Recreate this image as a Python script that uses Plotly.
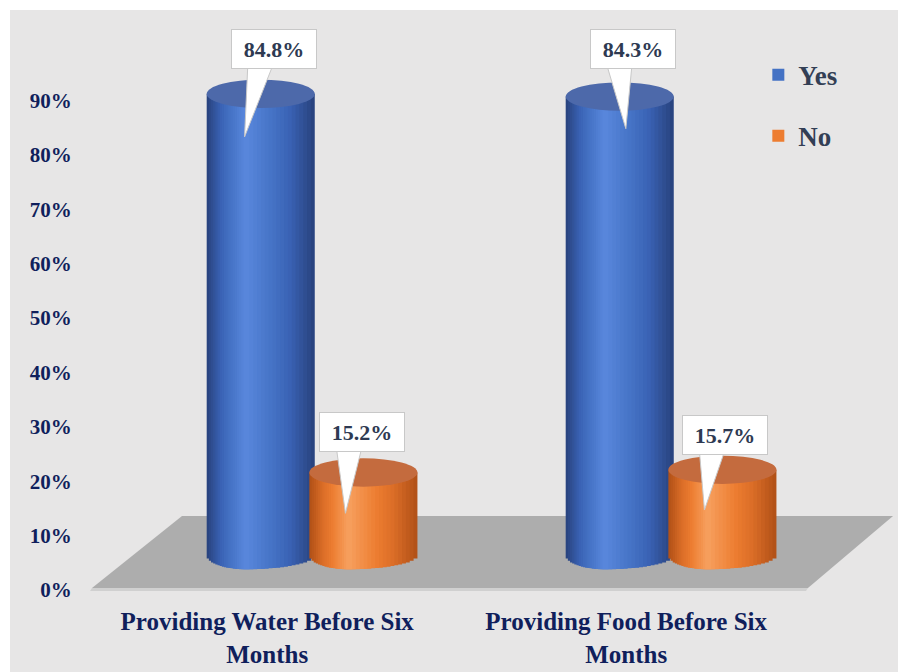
import plotly.graph_objects as go
import math

# ---------------- data ----------------
categories = ["Providing Water Before Six<br>Months", "Providing Food Before Six<br>Months"]
series_names = ["Yes", "No"]
yes_values = [84.8, 84.3]
no_values = [15.2, 15.7]
y_tick_values = [0, 10, 20, 30, 40, 50, 60, 70, 80, 90]
y_tick_labels = ["0%", "10%", "20%", "30%", "40%", "50%", "60%", "70%", "80%", "90%"]

# ---------------- style ----------------
W, H = 899, 672
ML, MR, MT, MB = 92, 9, 10, 82
PX_PER_X = 359.0
PX_PER_Y = 5.44
X_RANGE = [-0.613, -0.613 + (W - ML - MR) / PX_PER_X]
Y_TOP = (H - MB - MT) / PX_PER_Y
Y_SHIFT = 6.4            # bars sit on the floor, slightly above the axis zero
Y2_RANGE = [-Y_SHIFT, Y_TOP - Y_SHIFT]
BAR_W = 0.301
OFFSETS = [-0.143, 0.143]
ELL = 2.6                 # half height of the cylinder ellipses (y units)
N_LAYERS = 18
SERIF = "Liberation Serif"
NAVY = "#101f5c"
LABEL_COL = "#2e3a52"

# colour stops edge -> highlight
blue_stops = [(0.0, (0x29, 0x44, 0x80)), (0.35, (0x3a, 0x62, 0xb4)), (0.6, (0x44, 0x72, 0xc4)), (1.0, (0x58, 0x86, 0xdb))]
orange_stops = [(0.0, (0xb3, 0x52, 0x18)), (0.35, (0xdc, 0x6e, 0x28)), (0.6, (0xed, 0x7d, 0x31)), (1.0, (0xf6, 0x9e, 0x5c))]
top_colors = ["#4d69aa", "#c46b3e"]


def interp(stops, t):
    for (t0, c0), (t1, c1) in zip(stops[:-1], stops[1:]):
        if t <= t1:
            f = (t - t0) / (t1 - t0) if t1 > t0 else 0
            return "#%02x%02x%02x" % tuple(int(round(a + (b - a) * f)) for a, b in zip(c0, c1))
    return "#%02x%02x%02x" % stops[-1][1]


palettes = [[interp(blue_stops, k / (N_LAYERS - 1)) for k in range(N_LAYERS)],
            [interp(orange_stops, k / (N_LAYERS - 1)) for k in range(N_LAYERS)]]
legend_colors = ["#4472c4", "#ed7d31"]

# label box / pointer offsets (x units, y units)
label_dx = [[0.036, 0.036], [-0.003, 0.008]]
label_dy = [[8.3, 8.8], [7.4, 6.4]]
tip_dx = [[-0.045, 0.017], [-0.05, -0.05]]
tip_dy = [[-7.9, -5.9], [-7.5, -7.4]]

values = [yes_values, no_values]

fig = go.Figure()
shapes = []


def px_to_paper(px, py):
    return (px - ML) / (W - ML - MR), (H - MB - py) / (H - MB - MT)


bx0, by0 = px_to_paper(10, 10)
bx1, by1 = px_to_paper(898, 672)
shapes.append(dict(type="rect", xref="paper", yref="paper", x0=bx0, x1=bx1, y0=by1, y1=by0,
                   fillcolor="#e7e6e6", line=dict(width=0), layer="below"))
floor_pts = [px_to_paper(92, 588), px_to_paper(182, 516), px_to_paper(893, 516), px_to_paper(808, 588)]
path = "M " + " L ".join(f"{a:.4f},{b:.4f}" for a, b in floor_pts) + " Z"
shapes.append(dict(type="path", xref="paper", yref="paper", path=path,
                   fillcolor="#adadad", line=dict(width=0), layer="below"))
e0 = px_to_paper(92, 588); e1 = px_to_paper(808, 588); e2 = px_to_paper(806, 591); e3 = px_to_paper(90, 591)
shapes.append(dict(type="path", xref="paper", yref="paper",
                   path=f"M {e0[0]:.4f},{e0[1]:.4f} L {e1[0]:.4f},{e1[1]:.4f} L {e2[0]:.4f},{e2[1]:.4f} L {e3[0]:.4f},{e3[1]:.4f} Z",
                   fillcolor="#d0d0d0", line=dict(width=0), layer="below"))

# invisible trace so the tick axis (x, y) subplot exists
fig.add_trace(go.Scatter(x=[], y=[], showlegend=False, hoverinfo="skip"))

# cylinders as layered bars
for s, name in enumerate(series_names):
    xs_c = [i + OFFSETS[s] for i in range(len(categories))]
    for k in range(N_LAYERS):
        frac = 1 - k / N_LAYERS
        frac_next = 1 - (k + 1) / N_LAYERS
        w = BAR_W * frac
        shift = -(BAR_W - w) * 0.14
        umid = (frac + frac_next) / 2
        depth = ELL * math.sqrt(max(0.0, 1 - umid ** 2))
        fig.add_trace(go.Bar(
            x=[xc + shift for xc in xs_c],
            y=[v + depth for v in values[s]],
            base=[-depth] * len(values[s]),
            width=w,
            yaxis="y2",
            name=name,
            legendgroup=name,
            showlegend=False,
            marker=dict(color=palettes[s][k], line=dict(width=0)),
            hoverinfo="skip",
        ))
    # legend entry carrying the series colour (zero-height bars)
    fig.add_trace(go.Bar(
        x=xs_c, y=[0] * len(xs_c), width=BAR_W, yaxis="y2", name=name, legendgroup=name,
        showlegend=True, marker=dict(color=legend_colors[s], line=dict(width=0)), hoverinfo="skip",
    ))
    # top ellipses
    for i, v in enumerate(values[s]):
        xc = xs_c[i]
        shapes.append(dict(type="circle", xref="x", yref="y2",
                           x0=xc - BAR_W / 2, x1=xc + BAR_W / 2, y0=v - ELL, y1=v + ELL,
                           fillcolor=top_colors[s], line=dict(width=0), layer="above"))

# callout pointers + labels
annotations = []
for s in range(len(series_names)):
    for i, v in enumerate(values[s]):
        xc = i + OFFSETS[s]
        lx = xc + label_dx[s][i]
        ly = v + label_dy[s][i]
        tx = xc + tip_dx[s][i]
        ty = v + tip_dy[s][i]
        base_y = ly - 3.0
        p = f"M {lx - 0.072:.4f},{base_y:.3f} L {lx - 0.002:.4f},{base_y:.3f} L {tx:.4f},{ty:.3f} Z"
        shapes.append(dict(type="path", xref="x", yref="y2", path=p,
                           fillcolor="white", line=dict(color="#c8c8c8", width=1), layer="above"))
        annotations.append(dict(x=lx, y=ly, xref="x", yref="y2", text=f"{v:.1f}%",
                                showarrow=False, bgcolor="white", bordercolor="#c8c8c8",
                                borderwidth=1, width=82, height=36,
                                font=dict(family=SERIF, size=22, color=LABEL_COL, weight="bold")))

fig.update_layout(
    width=W, height=H,
    margin=dict(l=ML, r=MR, t=MT, b=MB),
    paper_bgcolor="white",
    plot_bgcolor="rgba(0,0,0,0)",
    barmode="overlay",
    shapes=shapes,
    annotations=annotations,
    showlegend=True,
    legend=dict(x=0.835, y=0.93, xanchor="left", yanchor="top",
                bgcolor="rgba(0,0,0,0)", tracegroupgap=23,
                font=dict(family=SERIF, size=27, color="#333f55", weight="bold")),
    xaxis=dict(range=X_RANGE, showgrid=False, zeroline=False, showline=False, automargin=False,
               tickvals=[i - 0.125 for i in range(len(categories))], ticktext=categories,
               ticks="outside", ticklen=9, tickcolor="rgba(0,0,0,0)",
               tickfont=dict(family=SERIF, size=25, color=NAVY, weight="bold")),
    yaxis=dict(range=[0, Y_TOP], showgrid=False, zeroline=False, showline=False, automargin=False,
               tickvals=y_tick_values, ticktext=y_tick_labels,
               ticks="outside", ticklen=15, tickcolor="rgba(0,0,0,0)",
               tickfont=dict(family=SERIF, size=21, color=NAVY, weight="bold")),
    yaxis2=dict(range=Y2_RANGE, overlaying="y", visible=False, automargin=False),
)

fig.write_html("out.html", config={"displayModeBar": False},
               post_script="document.body.style.margin='0';document.body.style.overflow='hidden';")
